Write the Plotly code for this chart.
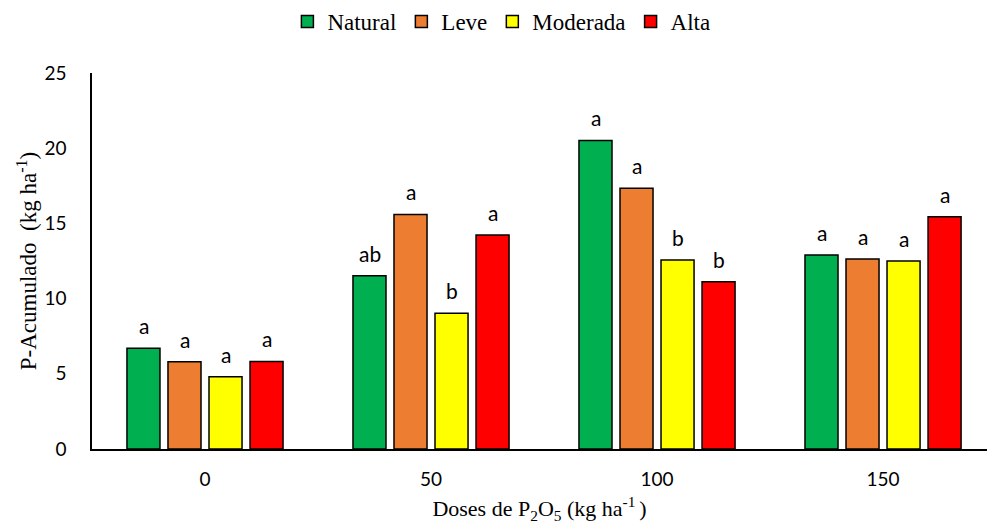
import plotly.graph_objects as go

categories = ["0", "50", "100", "150"]
series_names = ["Natural", "Leve", "Moderada", "Alta"]
natural = [6.70, 11.52, 20.52, 12.90]
leve = [5.80, 15.60, 17.33, 12.63]
moderada = [4.81, 9.02, 12.57, 12.50]
alta = [5.82, 14.23, 11.12, 15.45]
letters_natural = ["a", "ab", "a", "a"]
letters_leve = ["a", "a", "a", "a"]
letters_moderada = ["a", "b", "b", "a"]
letters_alta = ["a", "a", "b", "a"]
y_ticks = [0, 5, 10, 15, 20, 25]

colors = ["#00B050", "#ED7D31", "#FFFF00", "#FF0000"]
values = [natural, leve, moderada, alta]
letters = [letters_natural, letters_leve, letters_moderada, letters_alta]

SERIF = "Liberation Serif"
SANS = "Lato"

fig = go.Figure()
for i, (name, vals, lets, col) in enumerate(zip(series_names, values, letters, colors)):
    fig.add_trace(go.Bar(
        x=categories, y=vals, name=name,
        marker=dict(color=col, line=dict(color="black", width=1.5)),
    ))
    for j, (v, t) in enumerate(zip(vals, lets)):
        fig.add_annotation(x=j, y=v, text=t, showarrow=False, xref="x", yref="y",
                           xanchor="center", yanchor="bottom",
                           xshift=(i - 1.5) * 41, yshift=8,
                           font=dict(family=SANS, size=21, color="black"))

fig.update_layout(
    width=987, height=528,
    paper_bgcolor="white", plot_bgcolor="white",
    margin=dict(l=92, r=0, t=73, b=79),
    barmode="group", bargap=0.274, bargroupgap=0.195,
    showlegend=True,
    font=dict(family=SERIF, size=22, color="black"),
    xaxis=dict(type="category", range=[-0.5, 3.46], showline=True, linecolor="black", linewidth=1.5,
               showgrid=False, ticks="", ticklabelstandoff=12,
               tickfont=dict(family=SANS, size=19, color="black"),
               title=dict(text="Doses de P<sub>2</sub>O<sub>5</sub> (kg ha<sup>-1 </sup>)",
                          font=dict(family=SERIF, size=22, color="black"),
                          standoff=12)),
    yaxis=dict(range=[0, 25], tickvals=y_ticks, showline=True, linecolor="black", linewidth=1.5,
               showgrid=False, zeroline=False, ticks="", ticklabelstandoff=20,
               tickfont=dict(family=SANS, size=19, color="black"),
               title=dict(text="P-Acumulado&nbsp;&nbsp;(kg ha<sup>-1</sup>)",
                          font=dict(family=SERIF, size=23, color="black"),
                          standoff=1)),
)
fig.update_layout(legend=dict(orientation="h", xref="container", yref="container",
                              x=0.508, xanchor="center", y=1.0, yanchor="top",
                              itemwidth=30, tracegroupgap=0))
fig.update_legends(font=dict(family=SERIF, size=23, color="black"))

fig.write_html("out.html")
